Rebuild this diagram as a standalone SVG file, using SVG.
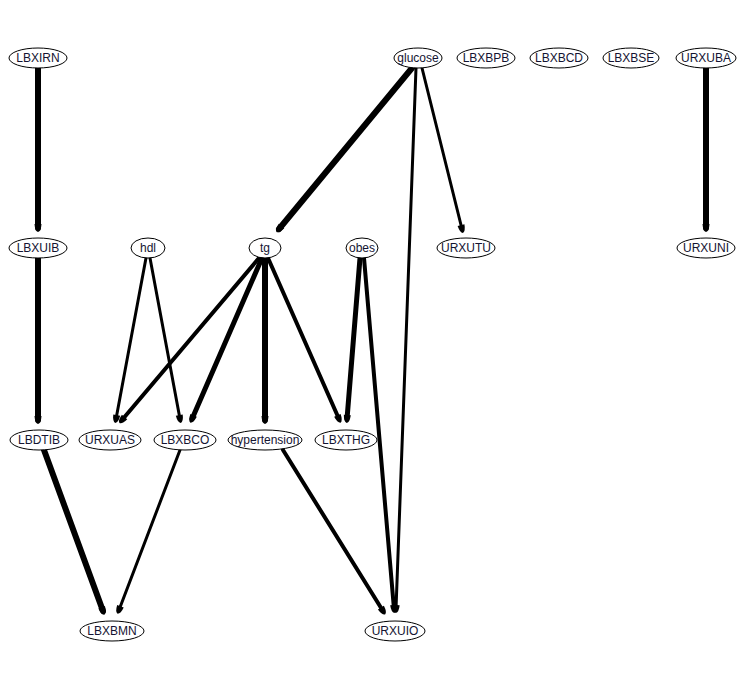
<svg xmlns="http://www.w3.org/2000/svg" width="747" height="688" viewBox="0 0 747 688">
<style>
.n ellipse{fill:#fff;stroke:#000;stroke-width:1}
.n text{font-family:"Liberation Sans",Arial,sans-serif;font-size:12px;fill:#141432;text-anchor:middle;dominant-baseline:central}
.e line{stroke:#000;stroke-linecap:round;marker-end:url(#h)}
</style>
<defs>
<marker id="h" markerUnits="userSpaceOnUse" viewBox="-5 -5 10 10" markerWidth="10" markerHeight="10" refX="0" refY="0" orient="auto">
<path d="M-4,-3.5 Q3,-3 4,0 Q3,3 -4,3.5 Z" fill="#000"/>
</marker>
</defs>
<rect width="747" height="688" fill="#fff"/>
<g id="edges" class="e">
<line x1="38" y1="68" x2="38" y2="228" stroke-width="6"/>
<line x1="38" y1="258" x2="38" y2="420" stroke-width="6"/>
<line x1="44" y1="450" x2="103" y2="611" stroke-width="6"/>
<line x1="180" y1="450" x2="119" y2="610" stroke-width="3"/>
<line x1="146" y1="258" x2="116" y2="419" stroke-width="3"/>
<line x1="150" y1="258" x2="180" y2="419" stroke-width="3"/>
<line x1="259" y1="258" x2="122" y2="420" stroke-width="4"/>
<line x1="262" y1="258" x2="192" y2="419" stroke-width="5"/>
<line x1="265" y1="258" x2="265" y2="420" stroke-width="6"/>
<line x1="268" y1="258" x2="339" y2="419" stroke-width="4"/>
<line x1="360" y1="258" x2="347" y2="419" stroke-width="5"/>
<line x1="364" y1="258" x2="394" y2="609" stroke-width="4"/>
<line x1="412" y1="68" x2="279" y2="229" stroke-width="6"/>
<line x1="416" y1="68" x2="396" y2="609" stroke-width="3"/>
<line x1="422" y1="68" x2="462" y2="229" stroke-width="3"/>
<line x1="706" y1="68" x2="706" y2="228" stroke-width="6"/>
<line x1="283" y1="450" x2="383" y2="611" stroke-width="4"/>
</g>
<g id="LBXIRN" class="n"><ellipse cx="38" cy="58" rx="29" ry="10"/><text x="38" y="58">LBXIRN</text></g>
<g id="glucose" class="n"><ellipse cx="418" cy="58" rx="24" ry="10"/><text x="418" y="58">glucose</text></g>
<g id="LBXBPB" class="n"><ellipse cx="486" cy="58" rx="29" ry="10"/><text x="486" y="58">LBXBPB</text></g>
<g id="LBXBCD" class="n"><ellipse cx="559" cy="58" rx="29" ry="10"/><text x="559" y="58">LBXBCD</text></g>
<g id="LBXBSE" class="n"><ellipse cx="631" cy="58" rx="28" ry="10"/><text x="631" y="58">LBXBSE</text></g>
<g id="URXUBA" class="n"><ellipse cx="706" cy="58" rx="30" ry="10"/><text x="706" y="58">URXUBA</text></g>
<g id="LBXUIB" class="n"><ellipse cx="38" cy="248" rx="29" ry="10"/><text x="38" y="248">LBXUIB</text></g>
<g id="hdl" class="n"><ellipse cx="148" cy="248" rx="17" ry="10"/><text x="148" y="248">hdl</text></g>
<g id="tg" class="n"><ellipse cx="265" cy="248" rx="16" ry="10"/><text x="265" y="248">tg</text></g>
<g id="obes" class="n"><ellipse cx="362" cy="248" rx="16" ry="10"/><text x="362" y="248">obes</text></g>
<g id="URXUTU" class="n"><ellipse cx="466" cy="248" rx="29" ry="10"/><text x="466" y="248">URXUTU</text></g>
<g id="URXUNI" class="n"><ellipse cx="706" cy="248" rx="29" ry="10"/><text x="706" y="248">URXUNI</text></g>
<g id="LBDTIB" class="n"><ellipse cx="39" cy="440" rx="29" ry="10"/><text x="39" y="440">LBDTIB</text></g>
<g id="URXUAS" class="n"><ellipse cx="110" cy="440" rx="31" ry="10"/><text x="110" y="440">URXUAS</text></g>
<g id="LBXBCO" class="n"><ellipse cx="185" cy="440" rx="31" ry="10"/><text x="185" y="440">LBXBCO</text></g>
<g id="hypertension" class="n"><ellipse cx="265" cy="440" rx="37" ry="10"/><text x="265" y="440">hypertension</text></g>
<g id="LBXTHG" class="n"><ellipse cx="346" cy="440" rx="31" ry="10"/><text x="346" y="440">LBXTHG</text></g>
<g id="LBXBMN" class="n"><ellipse cx="112" cy="631" rx="32" ry="10"/><text x="112" y="631">LBXBMN</text></g>
<g id="URXUIO" class="n"><ellipse cx="395" cy="631" rx="30" ry="10"/><text x="395" y="631">URXUIO</text></g>
</svg>
